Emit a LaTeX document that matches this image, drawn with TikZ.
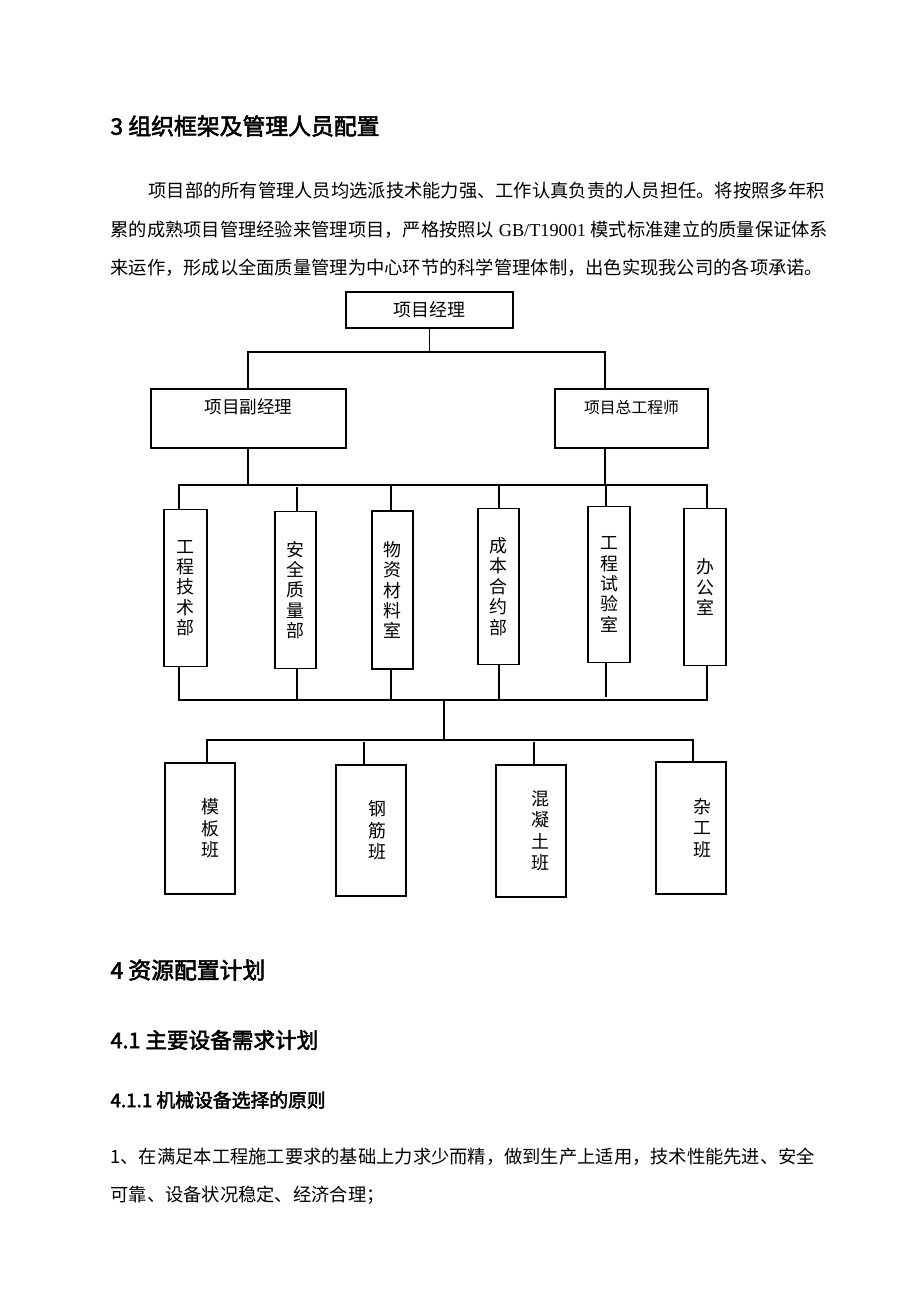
\documentclass[tikz,border=0pt]{standalone}
\usepackage{fontspec}
\setmainfont{Noto Sans CJK SC}[AutoFakeBold=2.5]
\newfontfamily\latinserif{Liberation Serif}
\begin{document}
\begin{tikzpicture}[x=0.02cm, y=-0.02cm, line width=0.6pt,
  txt/.style={anchor=west, inner sep=0pt, font=\fontsize{10.4}{12}\selectfont},
  head/.style={anchor=west, inner sep=0pt, font=\fontsize{13}{15}\selectfont\bfseries},
  box/.style={draw, inner sep=0pt, font=\fontsize{10.2}{12}\selectfont},
  boxlabel/.style={anchor=north, inner sep=0pt, yshift=-0.2cm},
  dept/.style={draw, inner sep=0pt, minimum width=0.82cm, minimum height=3.13cm,
    align=center, font=\fontsize{10.2}{11.6}\selectfont},
  team/.style={draw, inner sep=0pt, minimum width=1.4cm, minimum height=2.62cm},
  teamlabel/.style={align=center, inner sep=0pt, font=\fontsize{10.2}{12.2}\selectfont}]
  \useasboundingbox (0,0) rectangle (920,1302);

  \node[head] (h3) at (110,126) {3 组织框架及管理人员配置};
  \node[txt] (p1) at (148,191) {项目部的所有管理人员均选派技术能力强、工作认真负责的人员担任。将按照多年积};
  \node[txt] (p2) at (110,230) {累的成熟项目管理经验来管理项目，严格按照以{\latinserif\ GB/T19001\ }模式标准建立的质量保证体系};
  \node[txt] (p3) at (110,268) {来运作，形成以全面质量管理为中心环节的科学管理体制，出色实现我公司的各项承诺。};

  \node[box, minimum width=3.34cm, minimum height=0.72cm] (pm) at (429.5,310) {项目经理};
  \node[box, minimum width=3.9cm, minimum height=1.18cm,
    label={[boxlabel]north:项目副经理}] (dpm) at (248.5,418.5) {};
  \node[box, minimum width=3.06cm, minimum height=1.18cm,
    label={[boxlabel, font=\fontsize{9}{11}\selectfont, yshift=-0.02cm]north:项目总工程师}] (ce) at (631.5,418.5) {};

  \node[dept, minimum width=0.86cm] (d1) at (185.5,588) {工\\程\\技\\术\\部};
  \node[dept] (d2) at (295.5,590) {安\\全\\质\\量\\部};
  \node[dept, minimum height=3.16cm] (d3) at (392.5,590) {物\\资\\材\\料\\室};
  \node[dept] (d4) at (498.5,586.5) {成\\本\\合\\约\\部};
  \node[dept, minimum width=0.84cm] (d5) at (609,584.5) {工\\程\\试\\验\\室};
  \node[dept, minimum width=0.84cm] (d6) at (705,587) {办\\公\\室};

  \node[team, label={[teamlabel, xshift=0.2cm]center:模\\板\\班}] (t1) at (200,828.5) {};
  \node[team, label={[teamlabel, xshift=0.12cm]center:钢\\筋\\班}] (t2) at (371,830.5) {};
  \node[team, minimum height=2.64cm, label={[teamlabel, xshift=0.18cm]center:混\\凝\\土\\班}] (t3) at (531,831) {};
  \node[team, minimum height=2.64cm, label={[teamlabel, xshift=0.22cm]center:杂\\工\\班}] (t4) at (691,828) {};

  \coordinate (tl) at (248,352);
  \coordinate (tr) at (605,352);
  \draw (pm.south) -- (pm.south |- tl);
  \draw (dpm.north -| tl) -- (tl) -- (tr) -- (ce.north -| tr);
  \coordinate (ml) at (179,485);
  \coordinate (mr) at (707,485);
  \draw (dpm.south -| tl) -- (tl |- ml);
  \draw (ce.south -| tr) -- (tr |- ml);
  \draw (d1.north -| ml) -- (ml) -- (mr) -- (d6.north -| mr);
  \foreach \n/\x/\y in {2/297/487,3/391/485,4/499/485,5/606/485}
    {\coordinate (u\n) at (\x,\y); \draw (u\n) -- (u\n |- d\n.north);}

  \coordinate (bl) at (179,700);
  \coordinate (br) at (707,700);
  \draw (d1.south -| bl) -- (bl) -- (br) -- (d6.south -| br);
  \foreach \n/\x/\y in {2/297/700,3/391/700,4/499/700,5/606/697}
    {\coordinate (v\n) at (\x,\y); \draw (d\n.south -| v\n) -- (v\n);}
  \coordinate (bc) at (444,700);
  \coordinate (lc) at (444,740);
  \draw (bc) -- (lc);
  \coordinate (ll) at (207,740);
  \coordinate (lr) at (693,740);
  \draw (t1.north -| ll) -- (ll) -- (lr) -- (t4.north -| lr);
  \foreach \n/\x in {2/364,3/534}
    {\coordinate (w\n) at (\x,742); \draw (w\n) -- (w\n |- t\n.north);}

  \node[head] (h4) at (110,970) {4 资源配置计划};
  \node[head, font=\fontsize{12.3}{14}\selectfont\bfseries] (h41) at (110,1040) {4.1 主要设备需求计划};
  \node[head, font=\fontsize{10.7}{13}\selectfont\bfseries] (h411) at (110,1100) {4.1.1 机械设备选择的原则};
  \node[txt] (q1) at (110,1157) {1、在满足本工程施工要求的基础上力求少而精，做到生产上适用，技术性能先进、安全};
  \node[txt] (q2) at (110,1195) {可靠、设备状况稳定、经济合理；};
\end{tikzpicture}
\end{document}
